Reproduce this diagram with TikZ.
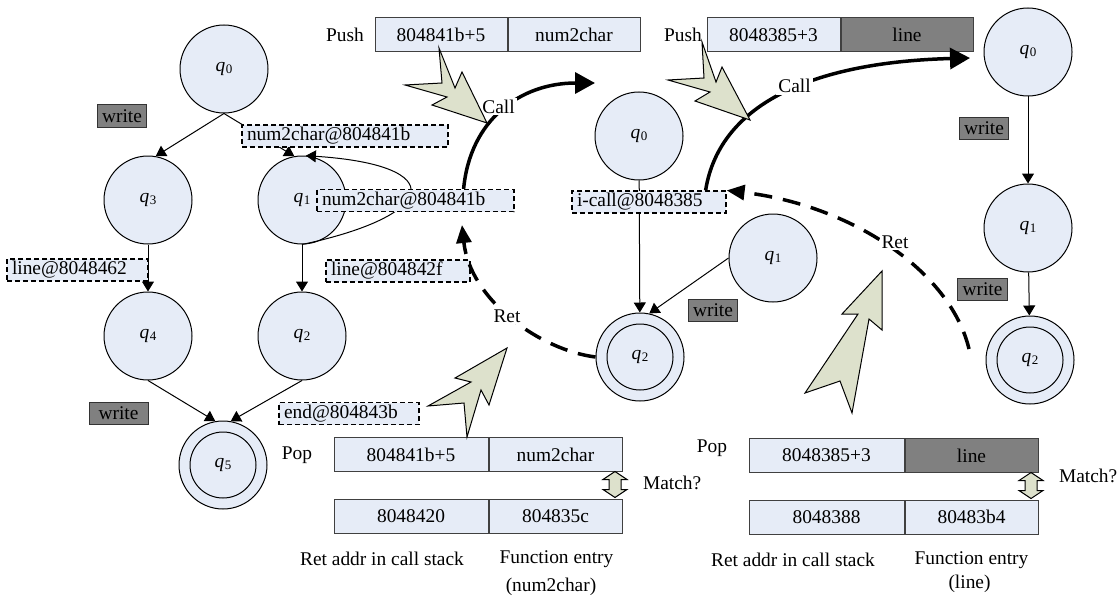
\documentclass[tikz,border=0pt]{standalone}
\usepackage{fontspec}
\setmainfont{Liberation Serif}
\usetikzlibrary{positioning,arrows.meta}

\definecolor{cellblue}{RGB}{230,236,247}
\definecolor{wgray}{RGB}{128,128,128}
\definecolor{boltfill}{RGB}{221,225,204}

% state name with small subscript
\newcommand{\qs}[1]{\textit{q}\kern0.3pt\raisebox{-0.2ex}{\fontsize{6.5}{7}\selectfont #1}}

% fat double arrow between two stack rows
\newcommand{\matcharrow}[2]{%
  \draw[bolt] (#1,#2) ++(0,-13) -- ++(12,8) -- ++(-6,0) -- ++(0,10) -- ++(6,0)
    -- ++(-12,8) -- ++(-12,-8) -- ++(6,0) -- ++(0,-10) -- ++(-6,0) -- cycle;}

\tikzset{
  state/.style={circle, draw, fill=cellblue, minimum size=44pt, inner sep=0pt, line width=0.5pt},
  accept/.style={state, path picture={\draw[line width=0.5pt] (path picture bounding box.center) circle (16.5pt);}},
  trans/.style={line width=0.5pt, -{Triangle[length=5pt,width=6pt]}},
  tlabel/.style={draw, fill=cellblue, dash pattern=on 2.5pt off 1.5pt, line width=0.6pt,
    minimum height=11pt, inner xsep=2.5pt, inner ysep=0pt, align=left},
  writebox/.style={draw=black!80, fill=wgray, line width=0.5pt, minimum height=11pt, inner xsep=2.5pt, inner ysep=0pt},
  cell/.style={draw=black!75, fill=cellblue, line width=0.5pt, minimum height=17pt, inner sep=0pt},
  darkcell/.style={cell, fill=wgray},
  callarc/.style={line width=1.75pt, -{Triangle[length=10pt,width=10.5pt]}},
  retarc/.style={line width=1.75pt, dash pattern=on 9pt off 5.5pt, -{Triangle[length=9pt,width=7.5pt]}},
  arclabel/.style={fill=white, inner sep=1pt},
  bolt/.style={draw, fill=boltfill, line width=0.5pt, line join=miter}
}

\begin{document}
\begin{tikzpicture}[x=0.5pt, y=-0.5pt, font=\fontsize{9.7}{11.5}\selectfont]

\useasboundingbox (0,0) rectangle (1117,599);

% caller automaton
\node[state] (lq0) at (224,69) {\qs{0}};
\node[state] (lq3) at (148,200) {\qs{3}};
\node[state] (lq1) at (302,200) {\qs{1}};
\node[state] (lq4) at (148,336) {\qs{4}};
\node[state] (lq2) at (302,336) {\qs{2}};
\node[accept] (lq5) at (223,465) {\qs{5}};

\draw[trans] (lq0.south) -- (lq3.80);
\draw[trans] (lq0.south) -- (lq1.100);
\draw[trans] (lq1.south) .. controls (440,215) and (450,165) .. (lq1.85);
\draw[trans] (lq3) -- (lq4);
\draw[trans] (lq1) -- (lq2);
\draw[trans] (lq4.south) -- (lq5.100);
\draw[trans] (lq2.south) -- (lq5.80);

\node[writebox] (lw1) at (122,116) {write};
\node[tlabel, text width=98pt] (topl) at (345,136) {num2char@804841b};
\node[tlabel, text width=93.5pt] (loopl) at (415.5,200.5) {num2char@804841b};
\node[tlabel, text width=65.5pt] (lline) at (77.5,270) {line@8048462};
\node[tlabel, text width=67pt] (rline) at (398,271) {line@804842f};
\node[writebox, minimum width=29.5pt] (lw2) at (118.5,413.5) {write};
\node[tlabel, text width=65pt] (lend) at (349,413.5) {end@804843b};

% num2char automaton
\node[state] (mq0) at (639,136) {\qs{0}};
\node[state] (mq1) at (773,258) {\qs{1}};
\node[accept] (mq2) at (640,357) {\qs{2}};

\draw[trans] (mq0) -- (mq2);
\draw[trans] (mq1.west) -- (mq2.78);

\node[tlabel, text width=72pt] (icall) at (649,202) {i-call@8048385};
\node[writebox] (mw) at (713,310.5) {write};

% line automaton
\node[state] (rq0) at (1028,52) {\qs{0}};
\node[state] (rq1) at (1028,228) {\qs{1}};
\node[accept] (rq2) at (1030,360) {\qs{2}};

\draw[trans] (rq0) -- (rq1);
\draw[trans] (rq1) -- (rq2);

\node[writebox] (rw1) at (984,128.5) {write};
\node[writebox] (rw2) at (982.5,289) {write};

% pushed entries
\node (pushA) at (345,35) {Push};
\node[cell, minimum width=66pt] (pushAret) at (441,35) {804841b+5};
\node[cell, minimum width=66pt, right=0pt of pushAret] (pushAfun) {num2char};

\node (pushB) at (683,35) {Push};
\node[cell, minimum width=66.5pt] (pushBret) at (773.5,35) {8048385+3};
\node[darkcell, minimum width=66pt, right=0pt of pushBret] (pushBfun) {line};

% popped entries against the call stack
\node (popA) at (297,455) {Pop};
\node[cell, minimum width=77pt] (popAret) at (411,454.5) {804841b+5};
\node[cell, minimum width=66.5pt, right=0pt of popAret] (popAfun) {num2char};
\node[cell, minimum width=77pt, below=13.25pt of popAret] (stkAret) {8048420};
\node[cell, minimum width=66.5pt, right=0pt of stkAret] (stkAfun) {804835c};

\node (popB) at (712,448) {Pop};
\node[cell, minimum width=77.5pt] (popBret) at (826.5,455.5) {8048385+3};
\node[darkcell, minimum width=66.5pt, right=0pt of popBret] (popBfun) {line};
\node[cell, minimum width=77.5pt, below=13.25pt of popBret] (stkBret) {8048388};
\node[cell, minimum width=66.5pt, right=0pt of stkBret] (stkBfun) {80483b4};

% call and return arcs
\coordinate (callAend) at (595,83);
\coordinate (callBend) at (970,58);
\coordinate (retAend) at (462,225);
\coordinate (retBstart) at (969,349);

\draw[callarc] ([xshift=-25.5pt]loopl.north east) .. controls (470,120) and (520,83) .. (callAend);
\draw[callarc] ([xshift=-10.5pt]icall.north east) .. controls (720,100) and (820,62) .. (callBend);
\draw[retarc] (mq2.west) .. controls (540,350) and (470,300) .. (retAend);
\draw[retarc] (retBstart) .. controls (950,270) and (850,205) .. (icall.north east);

\node[arclabel] (callA) at (498.5,106.5) {Call};
\node[arclabel] (callB) at (794.5,86) {Call};
\node[arclabel] (retA) at (507,316) {Ret};
\node[arclabel] (retB) at (895,242) {Ret};

% lightning bolts
\draw[bolt] (439,48) -- (442,83) -- (405,85) -- (447,97) -- (432,105) -- (487,123) -- (462,72) -- (455,88) -- cycle;
\draw[bolt] (702,42) -- (704,78) -- (668,80) -- (710,92) -- (695,101) -- (750,120) -- (722,67) -- (716,82) -- cycle;
\draw[bolt] (507,348) -- (455,378) -- (471,382) -- (428,406) -- (464,403) -- (467,437) -- (481,390) -- (489,405) -- cycle;
\draw[bolt] (882,271) -- (842,314) -- (858,314) -- (805,393) -- (840,381) -- (852,413) -- (869,319) -- (882,330) -- cycle;

% match checks
\matcharrow{615}{484.5}
\matcharrow{1031}{485.5}
\node[anchor=west] (matchA) at (636,483) {Match?};
\node[anchor=west] (matchB) at (1052,476) {Match?};

% column captions
\node (capAret) at (382,559) {Ret addr in call stack};
\node (capAfun) at (556.5,559) {Function entry};
\node (capAname) at (551,587) {(num2char)};
\node (capBret) at (793,560) {Ret addr in call stack};
\node (capBfun) at (971.5,560) {Function entry};
\node (capBname) at (969.5,584) {(line)};

\end{tikzpicture}
\end{document}
